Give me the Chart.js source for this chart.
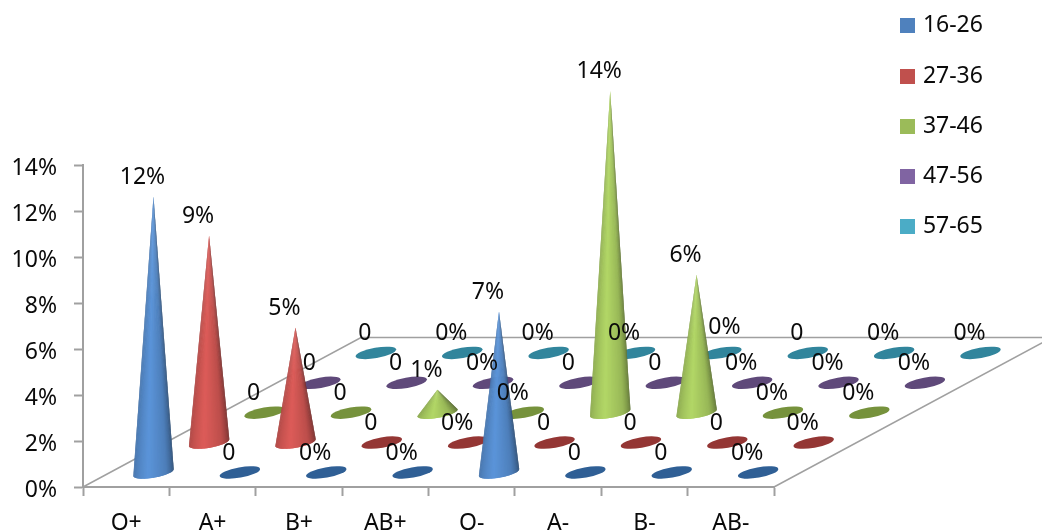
<!DOCTYPE html>
<html>
<head>
<meta charset="utf-8">
<style>
  html, body { margin: 0; padding: 0; background: #fff; }
  canvas { display: block; }
</style>
<script src="https://cdn.jsdelivr.net/npm/chart.js@4/dist/chart.umd.js"></script>
</head>
<body>
<canvas id="cones" width="1042" height="531"></canvas>
<script>
const bloodGroups = ["O+", "A+", "B+", "AB+", "O-", "A-", "B-", "AB-"];
const ageGroups = ["16-26", "27-36", "37-46", "47-56", "57-65"];

const age16to26 = [12, 0, 0, 0, 7, 0, 0, 0];
const age27to36 = [9, 5, 0, 0, 0, 0, 0, 0];
const age37to46 = [0, 0, 1, 0, 14, 6, 0, 0];
const age47to56 = [0, 0, 0, 0, 0, 0, 0, 0];
const age57to65 = [0, 0, 0, 0, 0, 0, 0, 0];

const labels16to26 = ["12%", "0", "0%", "0%", "7%", "0", "0", "0%"];
const labels27to36 = ["9%", "5%", "0", "0%", "0", "0", "0", "0%"];
const labels37to46 = ["0", "0", "1%", "0%", "14%", "6%", "0%", "0%"];
const labels47to56 = ["0", "0", "0%", "0", "0", "0%", "0%", "0%"];
const labels57to65 = ["0", "0%", "0%", "0%", "0%", "0", "0%", "0%"];

const yTicks = [0, 2, 4, 6, 8, 10, 12, 14];

const seriesValues = [age16to26, age27to36, age37to46, age47to56, age57to65];
const seriesLabels = [labels16to26, labels27to36, labels37to46, labels47to56, labels57to65];
const seriesColors = ["#4F81BD", "#C0504D", "#9BBB59", "#8064A2", "#4BACC6"];
const floorColors = ["#2F5F95", "#943634", "#76923C", "#5F497A", "#31859C"];

const FAMILY = '"Noto Sans", sans-serif';
const FONT = "23px " + FAMILY;
const GREY = "#a0a0a0";
const INK = "#0a0a0a";

// one step back into the chart, in pixels
const DEPTH_X = 55.6, DEPTH_Y = 29.9;
const ROW_X = 27.3, ROW_Y = 14.5;
const BASE_RX = 20.5, BASE_RY = 5.2, BASE_TILT = -10 * Math.PI / 180;

// the "0%" of 57-65 / O- was dragged off its cone in the original
function labelNudge(s, i) {
    return (s === 4 && i === 4) ? [14, -6] : [0, 0];
}

function swatch(color) {
    const c = document.createElement("canvas");
    c.width = 15; c.height = 15;
    const g = c.getContext("2d");
    g.fillStyle = color;
    g.fillRect(0, 0, 15, 15);
    return c;
}

function shade(hex, f) {
    const n = parseInt(hex.slice(1), 16);
    const p = v => Math.min(255, Math.round(v * f));
    return `rgb(${p(n >> 16)},${p((n >> 8) & 255)},${p(n & 255)})`;
}

function lightAt(u) {
    // left edge, highlight, middle, shadowed right edge
    if (u < 0.4) return 0.88 + (1.15 - 0.88) * u / 0.4;
    if (u < 0.7) return 1.15 + (0.98 - 1.15) * (u - 0.4) / 0.3;
    return 0.98 + (0.55 - 0.98) * (u - 0.7) / 0.3;
}

function basePoint(cx, cy, t) {
    const ex = BASE_RX * Math.cos(t), ey = BASE_RY * Math.sin(t);
    return [cx + ex * Math.cos(BASE_TILT) - ey * Math.sin(BASE_TILT),
            cy + ex * Math.sin(BASE_TILT) + ey * Math.cos(BASE_TILT)];
}

function drawCone(ctx, cx, cy, apexY, color) {
    const steps = 40;
    // wedges run left to right and overlap the next one so no seams show
    for (let k = steps; k > 0; k--) {
        const a = basePoint(cx, cy, Math.PI * k / steps);
        const b = basePoint(cx, cy, Math.PI * Math.max(k - 2, 0) / steps);
        ctx.fillStyle = shade(color, lightAt(1 - (k - 0.5) / steps));
        ctx.beginPath();
        ctx.moveTo(cx, apexY);
        ctx.lineTo(a[0], a[1]);
        ctx.lineTo(b[0], b[1]);
        ctx.closePath();
        ctx.fill();
    }
}

const conePlugin = {
    id: "cones",
    afterLayout(chart) {
        // legend floats top right, over no part of the plot
        const legend = chart.legend;
        legend.left = 876.2;
        legend.top = -12.8;
        legend.right = 1042;
        legend.bottom = 330;
    },
    beforeDatasetsDraw(chart) {
        // floor of the 3d box
        const { ctx, chartArea: area } = chart;
        const dx = DEPTH_X * seriesValues.length, dy = DEPTH_Y * seriesValues.length;
        ctx.save();
        ctx.strokeStyle = GREY;
        ctx.lineWidth = 1.5;
        ctx.beginPath();
        ctx.moveTo(area.left, area.bottom);
        ctx.lineTo(area.left + dx, area.bottom - dy);
        ctx.lineTo(area.right + dx, area.bottom - dy);
        ctx.lineTo(area.right, area.bottom);
        ctx.stroke();
        ctx.restore();
    },
    afterDatasetsDraw(chart) {
        const { ctx } = chart;
        const zero = chart.scales.y.getPixelForValue(0);
        ctx.save();
        // back row first so the front cones cover it
        for (let s = seriesValues.length - 1; s >= 0; s--) {
            const ox = ROW_X + DEPTH_X * s, oy = -ROW_Y - DEPTH_Y * s;
            chart.getDatasetMeta(s).data.forEach((pt, i) => {
                if (seriesValues[s][i] === 0) {
                    ctx.fillStyle = floorColors[s];
                    ctx.beginPath();
                    ctx.ellipse(pt.x + ox, zero + oy, BASE_RX, BASE_RY, BASE_TILT, 0, Math.PI * 2);
                    ctx.fill();
                } else {
                    drawCone(ctx, pt.x + ox, zero + oy, pt.y + oy, seriesColors[s]);
                }
            });
        }
        ctx.font = FONT;
        ctx.fillStyle = INK;
        ctx.textAlign = "center";
        ctx.textBaseline = "middle";
        seriesValues.forEach((vals, s) => {
            const ox = ROW_X + DEPTH_X * s, oy = -ROW_Y - DEPTH_Y * s;
            chart.getDatasetMeta(s).data.forEach((pt, i) => {
                const nudge = labelNudge(s, i);
                ctx.fillText(seriesLabels[s][i], pt.x + ox - 11 + nudge[0], pt.y + oy - 19.5 + nudge[1]);
            });
        });
        ctx.restore();
    }
};

new Chart(document.getElementById("cones").getContext("2d"), {
    type: "line",
    plugins: [conePlugin],
    data: {
        labels: bloodGroups,
        datasets: ageGroups.map((name, s) => ({
            label: name,
            data: seriesValues[s],
            showLine: false,
            pointRadius: 0,
            backgroundColor: seriesColors[s],
            borderColor: seriesColors[s],
            pointStyle: swatch(seriesColors[s])
        }))
    },
    options: {
        responsive: false,
        animation: false,
        devicePixelRatio: 1,
        layout: { padding: { top: 165, right: 268, left: 0, bottom: 0 } },
        plugins: {
            tooltip: { enabled: false },
            legend: {
                position: "chartArea",
                align: "start",
                labels: {
                    usePointStyle: true,
                    pointStyleWidth: 8,
                    boxHeight: 15,
                    padding: 27.2,
                    color: INK,
                    font: { family: FAMILY, size: 23 }
                }
            }
        },
        scales: {
            x: {
                offset: true,
                afterFit(scale) { scale.height = 44; },
                border: { color: GREY, width: 2 },
                grid: { offset: true, drawOnChartArea: false, color: GREY, tickLength: 9, tickWidth: 2 },
                ticks: { color: INK, padding: 14, maxRotation: 0, font: { family: FAMILY, size: 23 } }
            },
            y: {
                min: 0,
                max: 14,
                afterFit(scale) { scale.width = 83; },
                afterBuildTicks(scale) { scale.ticks = yTicks.map(v => ({ value: v })); },
                border: { color: GREY, width: 2 },
                grid: { drawOnChartArea: false, color: GREY, tickLength: 9, tickWidth: 2 },
                ticks: { color: INK, padding: 17, labelOffset: 3.5, callback: v => v + "%", font: { family: FAMILY, size: 23 } }
            }
        }
    }
});
</script>
</body>
</html>
